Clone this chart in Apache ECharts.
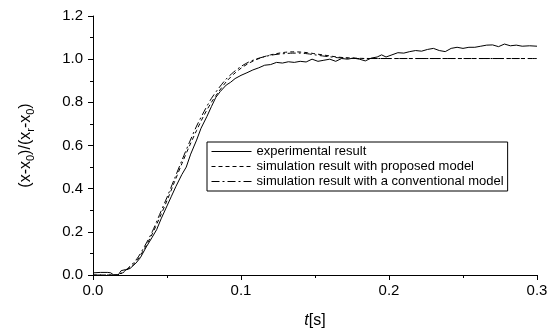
<!DOCTYPE html>
<html>
<head>
<meta charset="utf-8">
<script src="https://cdn.jsdelivr.net/npm/echarts@6/dist/echarts.min.js"></script>
<style>
  html, body { margin: 0; padding: 0; background: #fff; }
  #main { width: 552px; height: 333px; }
</style>
</head>
<body>
<div id="main"></div>
<script>
// time [s] and normalised position
var expT = [0, 0.005, 0.010, 0.012, 0.014, 0.017, 0.019, 0.022, 0.025, 0.029, 0.032, 0.036, 0.040, 0.043, 0.046,
  0.050, 0.053, 0.056, 0.060, 0.063, 0.066, 0.070, 0.073, 0.077, 0.080, 0.083, 0.086, 0.090, 0.093, 0.096,
  0.100, 0.104, 0.108, 0.112, 0.116, 0.120, 0.124, 0.128, 0.132, 0.136, 0.140, 0.144, 0.148, 0.152, 0.156,
  0.160, 0.164, 0.168, 0.172, 0.176, 0.180, 0.184, 0.188, 0.192, 0.195, 0.198, 0.202, 0.206, 0.210, 0.214,
  0.218, 0.222, 0.226, 0.230, 0.234, 0.238, 0.242, 0.246, 0.250, 0.254, 0.258, 0.262, 0.266, 0.270, 0.274,
  0.278, 0.282, 0.286, 0.290, 0.295, 0.300];
var expV = [0.010, 0.012, 0.012, 0.010, 0.000, 0.000, 0.020, 0.025, 0.030, 0.055, 0.080, 0.130, 0.175, 0.210, 0.260,
  0.320, 0.365, 0.410, 0.465, 0.500, 0.560, 0.625, 0.680, 0.735, 0.780, 0.823, 0.850, 0.880, 0.893, 0.910,
  0.925, 0.937, 0.950, 0.960, 0.972, 0.975, 0.985, 0.982, 0.988, 0.985, 0.990, 0.987, 1.000, 0.990, 0.995,
  1.000, 0.990, 1.003, 1.000, 1.005, 1.000, 0.992, 1.005, 1.010, 1.020, 1.010, 1.020, 1.030, 1.028, 1.035,
  1.040, 1.037, 1.045, 1.050, 1.040, 1.035, 1.050, 1.055, 1.050, 1.055, 1.055, 1.060, 1.065, 1.066, 1.058,
  1.070, 1.062, 1.065, 1.060, 1.062, 1.060];

var propT = [0, 0.015, 0.020, 0.025, 0.030, 0.035, 0.040, 0.045, 0.050, 0.055, 0.060, 0.065, 0.070, 0.075, 0.080,
  0.085, 0.090, 0.095, 0.100, 0.105, 0.110, 0.115, 0.120, 0.125, 0.130, 0.135, 0.140, 0.145, 0.150, 0.155,
  0.160, 0.165, 0.170, 0.180, 0.190, 0.200, 0.300];
var propV = [0, 0, 0.010, 0.035, 0.070, 0.125, 0.190, 0.265, 0.345, 0.430, 0.515, 0.595, 0.670, 0.740, 0.800,
  0.850, 0.895, 0.930, 0.958, 0.980, 0.997, 1.010, 1.020, 1.027, 1.032, 1.034, 1.033, 1.030, 1.025, 1.020,
  1.015, 1.010, 1.007, 1.004, 1.003, 1.003, 1.003];

var convT = [0, 0.015, 0.020, 0.025, 0.030, 0.035, 0.040, 0.045, 0.050, 0.055, 0.060, 0.065, 0.070, 0.075, 0.080,
  0.085, 0.090, 0.095, 0.100, 0.105, 0.110, 0.115, 0.120, 0.125, 0.130, 0.135, 0.140, 0.145, 0.150, 0.155,
  0.160, 0.165, 0.170, 0.180, 0.300];
var convV = [0, 0, 0.012, 0.040, 0.078, 0.135, 0.200, 0.280, 0.360, 0.445, 0.530, 0.612, 0.690, 0.757, 0.818,
  0.866, 0.908, 0.940, 0.966, 0.986, 1.000, 1.010, 1.018, 1.023, 1.026, 1.028, 1.028, 1.025, 1.020, 1.015,
  1.011, 1.007, 1.005, 1.003, 1.003];

var names = ['experimental result', 'simulation result with proposed model', 'simulation result with a conventional model'];

function pairs(t, v) {
  return t.map(function (x, i) { return [x, v[i]]; });
}

var font = 'Liberation Sans, Arial, sans-serif';
var myChart = echarts.init(document.getElementById('main'));

var option = {
  animation: false,
  backgroundColor: '#fff',
  textStyle: { fontFamily: font, color: '#000' },
  grid: { left: 93, right: 15, top: 16, bottom: 58, outerBoundsMode: 'none', containLabel: false },
  legend: {
    orient: 'vertical',
    left: 207,
    top: 142,
    data: names,
    itemWidth: 40,
    itemHeight: 12,
    itemGap: 2,
    padding: [3, 4, 3, 4],
    backgroundColor: '#fff',
    borderColor: '#000',
    borderWidth: 1,
    borderRadius: 0,
    itemStyle: { opacity: 0 },
    lineStyle: { width: 1 },
    textStyle: { fontFamily: font, fontSize: 13, color: '#000' }
  },
  xAxis: {
    type: 'value',
    min: 0,
    max: 0.3,
    interval: 0.1,
    name: '{i|t}[s]',
    nameLocation: 'middle',
    nameGap: 38,
    nameTextStyle: {
      fontFamily: font, fontSize: 16, color: '#000',
      rich: { i: { fontFamily: font, fontSize: 16, fontStyle: 'italic', color: '#000' } }
    },
    axisLine: { lineStyle: { color: '#000', width: 1 } },
    axisTick: { length: 5, inside: false, lineStyle: { color: '#000' } },
    minorTick: { show: true, splitNumber: 2, length: 3, lineStyle: { color: '#000' } },
    splitLine: { show: false },
    axisLabel: {
      fontFamily: font, fontSize: 15, color: '#000', margin: 8,
      formatter: function (v) { return v.toFixed(1); }
    }
  },
  yAxis: {
    type: 'value',
    min: 0,
    max: 1.2,
    interval: 0.2,
    name: '(x-x{s|0})/(x{s|r}-x{s|0})',
    nameLocation: 'middle',
    nameGap: 58,
    nameTextStyle: {
      fontFamily: font, fontSize: 16, color: '#000', lineHeight: 18,
      rich: { s: { fontFamily: font, fontSize: 11, color: '#000', lineHeight: 18, padding: [10, 0, 0, 0] } }
    },
    axisLine: { show: true, lineStyle: { color: '#000', width: 1 } },
    axisTick: { show: true, length: 5, lineStyle: { color: '#000' } },
    minorTick: { show: true, splitNumber: 2, length: 3, lineStyle: { color: '#000' } },
    splitLine: { show: false },
    axisLabel: {
      fontFamily: font, fontSize: 15, color: '#000', margin: 10,
      formatter: function (v) { return v.toFixed(1); }
    }
  },
  series: [
    {
      name: names[0], type: 'line', data: pairs(expT, expV), symbol: 'none',
      lineStyle: { color: '#000', width: 1, type: 'solid' }, itemStyle: { color: '#000' }
    },
    {
      name: names[1], type: 'line', data: pairs(propT, propV), symbol: 'none', smooth: 0.3,
      lineStyle: { color: '#000', width: 1, type: [4, 3] }, itemStyle: { color: '#000' }
    },
    {
      name: names[2], type: 'line', data: pairs(convT, convV), symbol: 'none', smooth: 0.3,
      lineStyle: { color: '#000', width: 1, type: [8, 3, 2, 3] }, itemStyle: { color: '#000' }
    }
  ]
};

option && myChart.setOption(option);
</script>
</body>
</html>
